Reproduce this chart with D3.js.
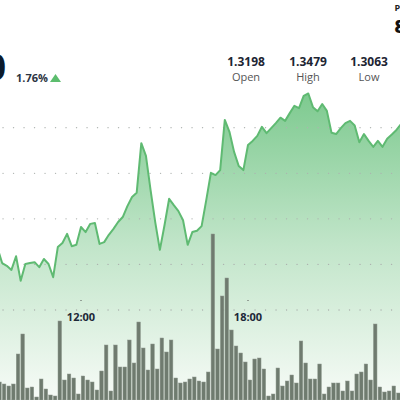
<!DOCTYPE html>
<html><head><meta charset="utf-8">
<script src="https://cdn.jsdelivr.net/npm/d3@7"></script>
<style>
html,body{margin:0;padding:0;background:#fff;overflow:hidden}
svg{display:block;font-family:"Open Sans",sans-serif}
</style></head>
<body><svg id="c" width="400" height="400"></svg>
<script>
// ---- data ----
const startTime = "09:00";          // first 10-minute interval
const intervalMinutes = 10;
const prices = [
 1.3136,1.3103,1.3097,1.3088,1.3118,1.3064,1.3101,1.3103,1.3105,1.3094,
 1.3112,1.3101,1.3072,1.3138,1.3147,1.3167,1.3140,1.3143,1.3182,1.3171,
 1.3189,1.3191,1.3145,1.3149,1.3165,1.3178,1.3193,1.3204,1.3228,1.3248,
 1.3257,1.3366,1.3338,1.3263,1.3193,1.3132,1.3186,1.3244,1.3230,1.3217,
 1.3197,1.3143,1.3171,1.3174,1.3184,1.3241,1.3301,1.3296,1.3307,1.3417,
 1.3391,1.3347,1.3316,1.3307,1.3362,1.3371,1.3382,1.3402,1.3388,1.3399,
 1.3410,1.3422,1.3415,1.3432,1.3448,1.3443,1.3470,1.3475,1.3445,1.3436,
 1.3452,1.3437,1.3389,1.3386,1.3399,1.3410,1.3415,1.3405,1.3368,1.3386,
 1.3371,1.3358,1.3371,1.3358,1.3376,1.3385,1.3395,1.3408,1.3417];
const volumes = [
 18,16,14,16,46,66,12,13,3,21,
 11,5,4,79,20,26,22,6,24,20,
 18,10,29,55,9,55,33,33,60,37,
 78,52,30,56,31,62,48,60,22,17,
 18,21,23,19,18,28,166,51,104,122,
 70,54,47,38,20,41,42,31,4,6,
 32,14,19,25,17,59,37,21,21,36,
 6,13,17,17,9,19,9,26,28,36,
 20,76,13,8,9,14,7];
const gridPrices = [1.30,1.31,1.32,1.33,1.34];
const timeTicks = ["12:00","18:00"];
const lastPrice = "1.3420";
const changePct = "1.76%";
const statValues = ["1.3198","1.3479","1.3063"];
const statLabels = ["Open","High","Low"];

// ---- setup ----
const parse = d3.timeParse("%H:%M");
const t0 = parse(startTime);
const timeAt = i => d3.timeMinute.offset(t0, i*intervalMinutes);
const svg = d3.select("#c");

const x = d3.scaleTime().domain([parse("12:00"), parse("18:00")]).range([81, 248]);
const y = d3.scaleLinear().domain([1.30, 1.34]).range([310, 127.7]);
const yv = d3.scaleLinear().domain([0, 200]).range([400, 200]);

const defs = svg.append("defs");
const g = defs.append("linearGradient").attr("id","ag")
  .attr("gradientUnits","userSpaceOnUse").attr("x1",0).attr("x2",0).attr("y1",90).attr("y2",400);
g.append("stop").attr("offset",0).attr("stop-color","#7cc98e");
g.append("stop").attr("offset",0.5).attr("stop-color","#c1e5c9");
g.append("stop").attr("offset",1).attr("stop-color","#f7fbf7");

const pts = prices.map((p,i)=>({t:timeAt(i), p}));

// area
svg.append("path").datum(pts)
  .attr("d", d3.area().x(d=>x(d.t)).y0(400).y1(d=>y(d.p)))
  .attr("fill","url(#ag)");

// grid
svg.append("g").selectAll("line").data(gridPrices).join("line")
  .attr("x1",3).attr("x2",400).attr("y1",d=>y(d)).attr("y2",d=>y(d))
  .attr("stroke","#adb2af").attr("stroke-width",1.3)
  .attr("stroke-linecap","round")
  .attr("stroke-dasharray","0.1 10.4");

// volume bars
const step = x(timeAt(1)) - x(timeAt(0));
svg.append("g").selectAll("rect").data(volumes).join("rect")
  .attr("x",(d,i)=>x(timeAt(i))+0.2)
  .attr("width", step-1.1)
  .attr("y",d=>yv(d))
  .attr("height",d=>400-yv(d))
  .attr("fill","#6f7b6f")
  .attr("stroke","#8e998e").attr("stroke-width",0.5);

// line
svg.append("path").datum(pts)
  .attr("d", d3.line().x(d=>x(d.t)).y(d=>y(d.p)))
  .attr("fill","none").attr("stroke","#5fba72").attr("stroke-width",2)
  .attr("stroke-linejoin","round");

// time axis labels
const tg = svg.append("g").selectAll("g").data(timeTicks).join("g")
  .attr("transform",d=>`translate(${x(parse(d))},0)`);
tg.append("rect").attr("x",-0.5).attr("y",300).attr("width",1).attr("height",1).attr("fill","#555");
tg.append("text").attr("y",321).attr("text-anchor","middle")
  .attr("font-size",11).attr("font-weight",700).attr("fill","#1d2838").text(d=>d);

// header
svg.append("text").attr("x",6).attr("y",80).attr("text-anchor","end")
  .attr("font-size",35).attr("font-weight",700).attr("fill","#0c1a2b").text(lastPrice);
svg.append("text").attr("x",16).attr("y",82)
  .attr("font-size",11).attr("font-weight",700).attr("fill","#2b3442").text(changePct);
svg.append("path").attr("d","M50,82L55.5,74L61,82Z").attr("fill","#5cbd6e");

const sx = [246, 308, 369];
const sg = svg.append("g").selectAll("g").data(statValues).join("g")
  .attr("transform",(d,i)=>`translate(${sx[i]},0)`);
sg.append("text").attr("y",66).attr("text-anchor","middle")
  .attr("font-size",12).attr("font-weight",700).attr("fill","#1d2533").text(d=>d);
sg.append("text").attr("y",81).attr("text-anchor","middle")
  .attr("font-size",11).attr("fill","#555").text((d,i)=>statLabels[i]);

svg.append("text").attr("x",394.5).attr("y",11)
  .attr("font-size",9).attr("font-weight",700).attr("fill","#222").text("P");
svg.append("text").attr("x",394.5).attr("y",33)
  .attr("font-size",18).attr("font-weight",800).attr("fill","#111").text("8");
</script></body></html>
